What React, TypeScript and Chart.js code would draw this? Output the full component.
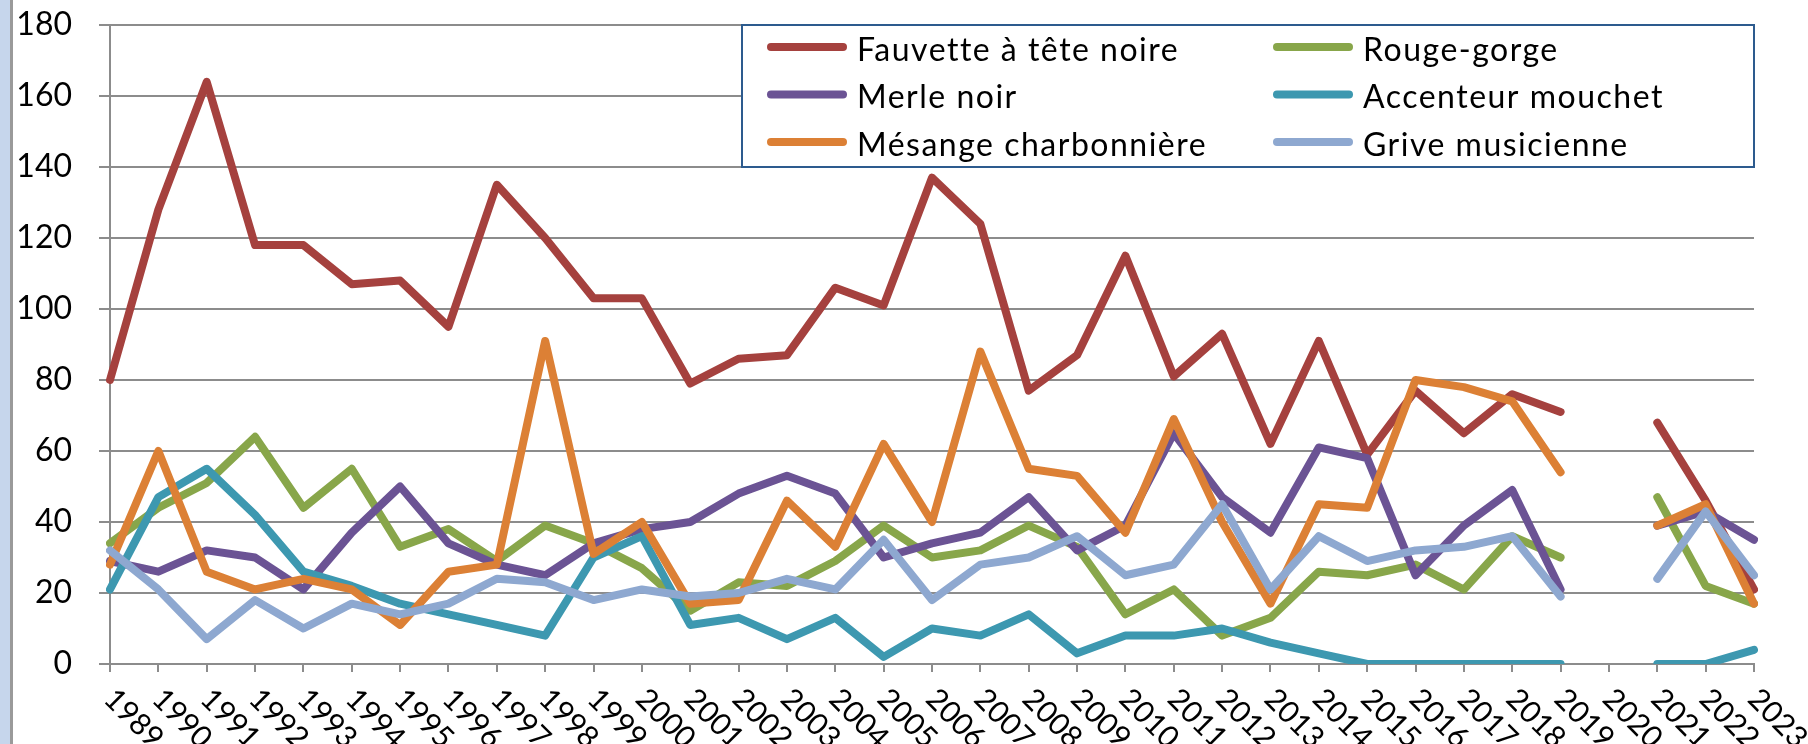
import React, { useEffect, useRef } from "react";
import { Chart, registerables } from "chart.js";

Chart.register(...registerables);

const years = [
  "1989","1990","1991","1992","1993","1994","1995","1996","1997","1998",
  "1999","2000","2001","2002","2003","2004","2005","2006","2007","2008",
  "2009","2010","2011","2012","2013","2014","2015","2016","2017","2018",
  "2019","2020","2021","2022","2023",
];

const fauvette = [80,128,164,118,118,107,108,95,135,120,103,103,79,86,87,106,101,137,124,77,87,115,81,93,62,91,59,77,65,76,71,null,68,46,21];
const rougeGorge = [34,44,51,64,44,55,33,38,29,39,34,27,15,23,22,29,39,30,32,39,33,14,21,8,13,26,25,28,21,36,30,null,47,22,17];
const merle = [29,26,32,30,21,37,50,34,28,25,34,38,40,48,53,48,30,34,37,47,32,39,65,47,37,61,58,25,39,49,21,null,39,43,35];
const accenteur = [21,47,55,42,26,22,17,14,11,8,30,36,11,13,7,13,2,10,8,14,3,8,8,10,6,3,0,0,0,0,0,null,0,0,4];
const mesange = [28,60,26,21,24,21,11,26,28,91,31,40,17,18,46,33,62,40,88,55,53,37,69,40,17,45,44,80,78,74,54,null,39,45,17];
const grive = [32,21,7,18,10,17,14,17,24,23,18,21,19,20,24,21,35,18,28,30,36,25,28,45,21,36,29,32,33,36,19,null,24,43,25];

const seriesNames = [
  "Fauvette à tête noire",
  "Rouge-gorge",
  "Merle noir",
  "Accenteur mouchet",
  "Mésange charbonnière",
  "Grive musicienne",
];
const seriesData = [fauvette, rougeGorge, merle, accenteur, mesange, grive];
const seriesColors = ["#A5413E", "#88A64A", "#6B5394", "#3D98B0", "#DC8035", "#8EA8D0"];

const yTicks = [0, 20, 40, 60, 80, 100, 120, 140, 160, 180];

const FONT = "Lato, 'Open Sans', 'DejaVu Sans', sans-serif";
const GRID = "#8C8C8C";

const boxLegend = {
  id: "boxLegend",
  afterDatasetsDraw(chart: any) {
    const { ctx, chartArea } = chart;
    const right = chartArea.right;
    const top = chartArea.top;
    const left = right - 1012;
    const height = 142;
    ctx.save();
    ctx.fillStyle = "#FFFFFF";
    ctx.fillRect(left, top, right - left, height);
    ctx.strokeStyle = "#2D5B8E";
    ctx.lineWidth = 2;
    ctx.strokeRect(left, top, right - left, height);
    ctx.font = `32px ${FONT}`;
    (ctx as any).letterSpacing = "1.5px";
    ctx.textBaseline = "alphabetic";
    ctx.textAlign = "left";
    seriesNames.forEach((name, i) => {
      const col = i % 2;
      const row = Math.floor(i / 2);
      const sx = left + 25 + col * 506;
      const y = top + 22 + row * 47.5;
      ctx.strokeStyle = seriesColors[i];
      ctx.lineWidth = 8;
      ctx.lineCap = "round";
      ctx.beginPath();
      ctx.moveTo(sx + 4, y);
      ctx.lineTo(sx + 76, y);
      ctx.stroke();
      ctx.fillStyle = "#000000";
      ctx.fillText(name, sx + 90, y + 13.5);
    });
    ctx.restore();
  },
};

const rotatedXLabels = {
  id: "rotatedXLabels",
  afterDraw(chart: any) {
    const { ctx, chartArea } = chart;
    const xs = chart.scales.x;
    ctx.save();
    ctx.font = `30px ${FONT}`;
    ctx.fillStyle = "#000000";
    ctx.textAlign = "left";
    ctx.textBaseline = "middle";
    years.forEach((label, i) => {
      const x = xs.getPixelForValue(i);
      ctx.save();
      ctx.translate(x - 1, chartArea.bottom + 30);
      ctx.rotate(Math.PI / 4);
      ctx.fillText(label, 0, 0);
      ctx.restore();
    });
    ctx.restore();
  },
};

export default function App() {
  const ref = useRef<HTMLCanvasElement | null>(null);

  useEffect(() => {
    document.body.style.margin = "0";
    const canvas = ref.current;
    if (!canvas) return;
    const chart = new Chart(canvas, {
      type: "line",
      data: {
        labels: years,
        datasets: seriesData.map((d, i) => ({
          label: seriesNames[i],
          data: d,
          borderColor: seriesColors[i],
          backgroundColor: seriesColors[i],
          borderWidth: 8,
          borderCapStyle: "round",
          borderJoinStyle: "round",
          pointRadius: 0,
          pointHoverRadius: 0,
          tension: 0,
          spanGaps: false,
          order: seriesData.length - i,
        })),
      },
      options: {
        responsive: false,
        animation: false,
        devicePixelRatio: 1,
        layout: { padding: { top: 25, right: 54, bottom: 0, left: 0 } },
        plugins: {
          legend: { display: false },
          tooltip: { enabled: false },
        },
        scales: {
          x: {
            type: "category",
            offset: false,
            afterFit: (s: any) => { s.height = 80; s.paddingLeft = 0; s.paddingRight = 0; },
            grid: {
              display: true,
              drawOnChartArea: false,
              drawTicks: true,
              tickLength: 8,
              color: GRID,
              lineWidth: 2,
            },
            border: { display: true, color: GRID, width: 2 },
            ticks: { display: false },
          },
          y: {
            min: 0,
            max: 180,
            afterFit: (s: any) => { s.width = 110; s.paddingTop = 0; s.paddingBottom = 0; },
            afterBuildTicks: (s: any) => { s.ticks = yTicks.map((v) => ({ value: v })); },
            grid: {
              color: GRID,
              lineWidth: 2,
              drawTicks: true,
              tickLength: 11,
            },
            border: { display: true, color: GRID, width: 2 },
            ticks: {
              stepSize: 20,
              padding: 27,
              color: "#000000",
              font: { family: FONT, size: 32 },
            },
          },
        },
      },
      plugins: [boxLegend, rotatedXLabels],
    });
    return () => chart.destroy();
  }, []);

  return (
    <div style={{ position: "fixed", left: 0, top: 0, width: 1808, height: 744, background: "#FFFFFF", overflow: "hidden" }}>
      <div style={{ position: "absolute", left: 0, top: 0, width: 10, height: 744, background: "#C6D6EC" }} />
      <div style={{ position: "absolute", left: 10, top: 0, width: 3, height: 744, background: "#9A9A9A" }} />
      <canvas ref={ref} width={1808} height={744} style={{ position: "absolute", left: 0, top: 0, width: 1808, height: 744 }} />
    </div>
  );
}
